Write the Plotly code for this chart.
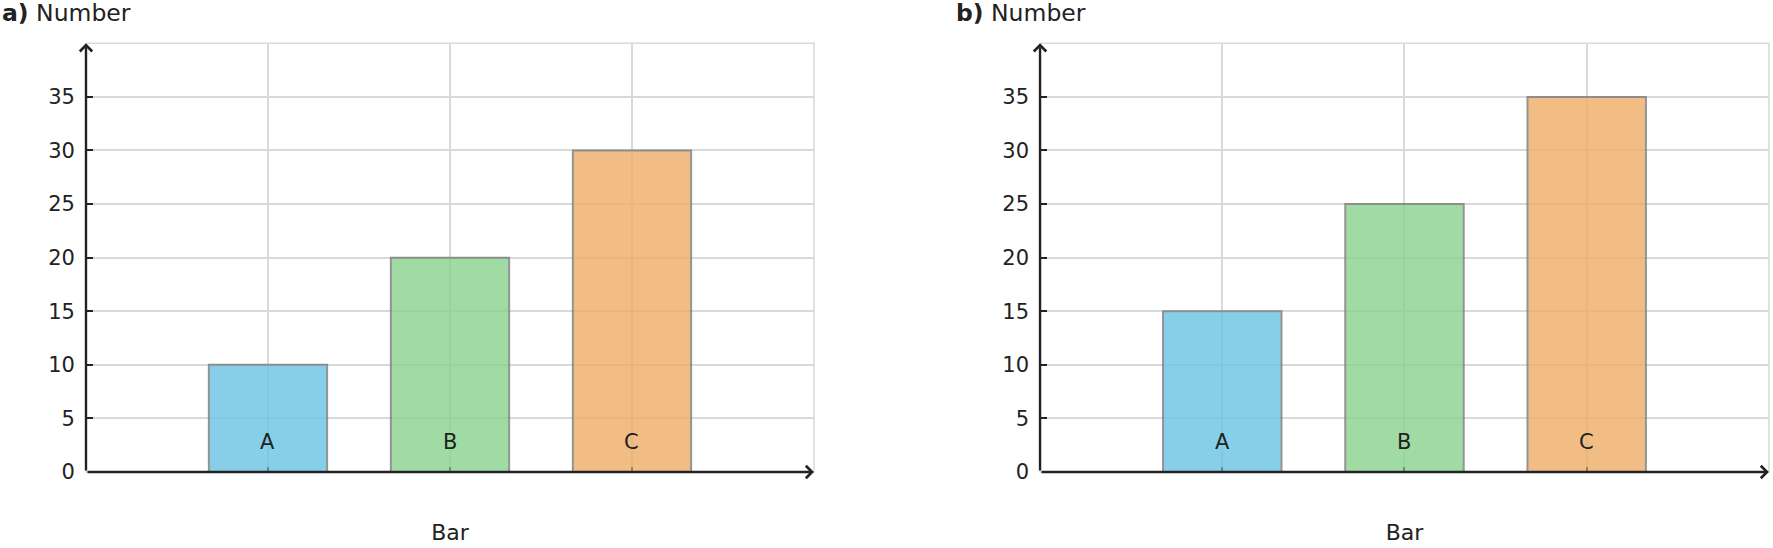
import plotly.graph_objects as go
from plotly.subplots import make_subplots

CATEGORIES = ['A', 'B', 'C']
X_POS = [1, 2, 3]
VALUES_A = [10, 20, 30]
VALUES_B = [15, 25, 35]
PANEL_LABELS = ['a)', 'b)']
Y_TITLE = 'Number'
X_TITLE = 'Bar'
Y_TICKS = [0, 5, 10, 15, 20, 25, 30, 35]

COLORS = ['#69c4e3', '#88d38d', '#efad66']
FONT = 'DejaVu Sans'
TEXT = '#222222'
GRID = '#d9d9d9'

X_DOMAINS = [[0.0485, 0.4591], [0.5866, 0.9977]]
Y_DOMAIN = [0.1387, 0.921]

fig = make_subplots(rows=1, cols=2)

for i, values in enumerate([VALUES_A, VALUES_B]):
    col = i + 1
    fig.add_trace(go.Bar(
        x=X_POS, y=values, width=0.65,
        marker=dict(color=COLORS, opacity=0.8,
                    line=dict(color='#7a7a7a', width=2)),
        showlegend=False, hoverinfo='skip'), row=1, col=col)

    xa = 'x' if i == 0 else 'x2'
    ya = 'y' if i == 0 else 'y2'

    # category labels inside the bars
    for xp, cat in zip(X_POS, CATEGORIES):
        fig.add_annotation(x=xp, y=0, xref=xa, yref=ya, text=cat,
                           showarrow=False, yanchor='middle', yshift=30,
                           font=dict(size=21, color=TEXT, family=FONT))

    # axis arrows
    fig.add_annotation(x=4, y=0, ax=0, ay=0, xref=xa, yref=ya,
                       axref=xa, ayref=ya, text='', showarrow=True,
                       arrowhead=4, arrowsize=1, arrowwidth=2.4,
                       arrowcolor=TEXT, standoff=0, startstandoff=0)
    fig.add_annotation(x=0, y=40, ax=0, ay=0, xref=xa, yref=ya,
                       axref=xa, ayref=ya, text='', showarrow=True,
                       arrowhead=4, arrowsize=1, arrowwidth=2.4,
                       arrowcolor=TEXT, standoff=0, startstandoff=0)

    # light frame on top / right
    fig.add_shape(type='rect', x0=0, x1=1, y0=0, y1=1,
                  xref=xa + ' domain', yref=ya + ' domain',
                  line=dict(color=GRID, width=1.5), layer='below')

    # panel title
    fig.add_annotation(x=X_DOMAINS[i][0], y=1, xref='paper', yref='paper',
                       xanchor='left', yanchor='top', showarrow=False,
                       xshift=-86, yshift=3,
                       text=f'<b>{PANEL_LABELS[i]}</b> {Y_TITLE}',
                       font=dict(size=23.5, color=TEXT, family=FONT))

fig.update_xaxes(range=[0, 4], tickvals=X_POS, showticklabels=False,
                 ticks='inside', ticklen=5, tickwidth=1.5,
                 tickcolor='rgba(60,60,60,0.45)',
                 showgrid=True, gridcolor=GRID, gridwidth=1.5,
                 zeroline=False, showline=False, automargin=False,
                 title_text=X_TITLE, title_standoff=52,
                 title_font=dict(size=22, color=TEXT, family=FONT))
fig.update_yaxes(range=[0, 40], tickvals=Y_TICKS,
                 ticks='inside', ticklen=7, tickwidth=2, tickcolor=TEXT,
                 ticklabelstandoff=10, automargin=False,
                 tickfont=dict(size=21, color=TEXT, family=FONT),
                 showgrid=True, gridcolor=GRID, gridwidth=1.5,
                 zeroline=False, showline=False)

fig.update_layout(
    width=1773, height=548,
    margin=dict(l=0, r=0, t=0, b=0),
    plot_bgcolor='white', paper_bgcolor='white',
    font=dict(family=FONT, color=TEXT),
    xaxis=dict(domain=X_DOMAINS[0]),
    xaxis2=dict(domain=X_DOMAINS[1]),
    yaxis=dict(domain=Y_DOMAIN),
    yaxis2=dict(domain=Y_DOMAIN),
)

fig.write_html("out.html", config={'displayModeBar': False},
               post_script="document.body.style.margin='0';"
                           "document.body.style.overflow='hidden';")
